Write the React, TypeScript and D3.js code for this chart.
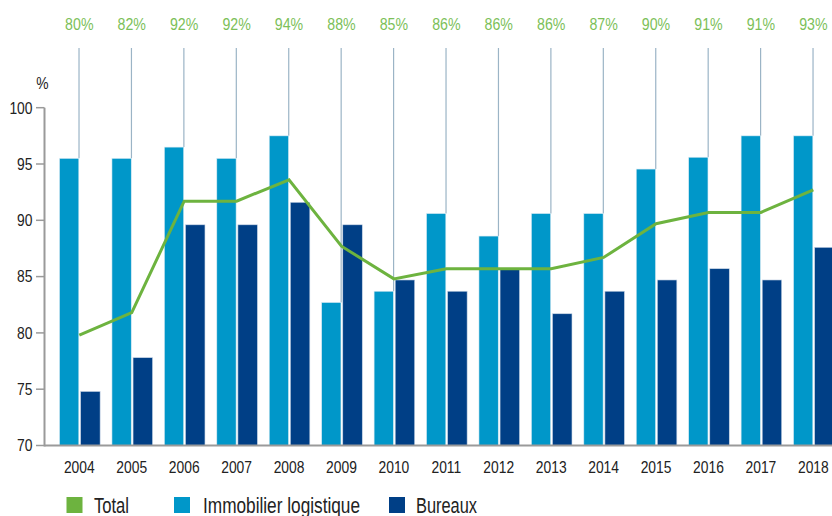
import React from "react";
import * as d3 from "d3";

const years = ["2004","2005","2006","2007","2008","2009","2010","2011","2012","2013","2014","2015","2016","2017","2018"];
const logistique = [95.5,95.5,96.5,95.5,97.5,82.7,83.7,90.6,88.6,90.6,90.6,94.55,95.6,97.5,97.5];
const bureaux = [74.8,77.8,89.6,89.6,91.6,89.6,84.7,83.7,85.65,81.7,83.7,84.7,85.7,84.7,87.6];
const total = [79.8,81.8,91.7,91.7,93.6,87.7,84.8,85.7,85.7,85.7,86.7,89.7,90.7,90.7,92.7];
const totalLabels = ["80%","82%","92%","92%","94%","88%","85%","86%","86%","86%","87%","90%","91%","91%","93%"];
const yTicks = [70,75,80,85,90,95,100];
const legendItems = ["Total", "Immobilier logistique", "Bureaux"];

const W = 832, H = 516;
const FONT = "'Liberation Sans', Arial, sans-serif";
const C_LIGHT = "#0097c9";
const C_DARK = "#003f86";
const C_GREEN = "#6db33f";
const C_GREEN_TXT = "#7cbf59";

function CText(props: { x: number; y: number; s: number; size: number; fill: string; anchor?: string; children: React.ReactNode; tl?: number }) {
  const { x, y, s, size, fill, anchor, children, tl } = props;
  return (
    <g transform={`translate(${x},${y}) scale(${s},1)`}>
      <text x={0} y={0} fontSize={size} fill={fill} textAnchor={anchor || "start"} {...(tl ? { textLength: tl / s, lengthAdjust: "spacingAndGlyphs" } : {})}>{children}</text>
    </g>
  );
}

export default function App() {
  const x = d3.scaleBand<string>().domain(years).range([53.1, 53.1 + 15 * 52.43]).padding(0);
  const y = d3.scaleLinear().domain([70, 100]).range([445.5, 107.7]);
  const cx = (yr: string) => (x(yr) as number) + x.bandwidth() / 2;
  const line = d3.line<number>().x((_, i) => cx(years[i])).y((d) => y(d));
  const legendColors = [C_GREEN, C_LIGHT, C_DARK];
  const legendSq = [66.5, 174, 389];
  const legendTx = [94, 203, 416];
  const legendW = [35, 157, 61];

  return (
    <svg width={W} height={H} style={{ position: "absolute", left: 0, top: 0, background: "#fff" }} fontFamily={FONT}>
      {years.map((yr, i) => (
        <line key={"v" + yr} x1={cx(yr) - 0.3} x2={cx(yr) - 0.3} y1={48} y2={y(logistique[i])} stroke="#9bb4c6" strokeWidth={1.2} />
      ))}
      {years.map((yr, i) => (
        <CText key={"t" + yr} x={cx(yr)} y={30} s={0.86} size={16.5} fill={C_GREEN_TXT} anchor="middle">{totalLabels[i]}</CText>
      ))}
      {years.map((yr, i) => (
        <g key={"b" + yr}>
          <rect x={cx(yr) - 19.8} width={19.3} y={y(logistique[i])} height={y(70) - y(logistique[i])} fill={C_LIGHT} stroke="#d8eaf3" strokeWidth={0.6} />
          <rect x={cx(yr) + 1.3} width={19.5} y={y(bureaux[i])} height={y(70) - y(bureaux[i])} fill={C_DARK} stroke="#c9d6e6" strokeWidth={0.6} />
        </g>
      ))}
      <path d={line(total) || ""} fill="none" stroke={C_GREEN} strokeWidth={3} strokeLinejoin="miter" />
      <line x1={44.5} x2={44.5} y1={y(100)} y2={y(70) + 1} stroke="#9a9a9a" strokeWidth={2} />
      <line x1={44.5} x2={W} y1={y(70)} y2={y(70)} stroke="#9a9a9a" strokeWidth={2} />
      {yTicks.map((t) => (
        <g key={"y" + t}>
          <line x1={36} x2={44.5} y1={y(t)} y2={y(t)} stroke="#9a9a9a" strokeWidth={1.5} />
          <CText x={32.5} y={y(t) + 5.8} s={0.84} size={16.5} fill="#222" anchor="end">{t}</CText>
        </g>
      ))}
      <CText x={42.5} y={89} s={0.84} size={16.5} fill="#222" anchor="middle">%</CText>
      {years.map((yr) => (
        <CText key={"x" + yr} x={cx(yr)} y={473} s={0.84} size={16.5} fill="#222" anchor="middle">{yr}</CText>
      ))}
      {legendItems.map((name, i) => (
        <g key={"l" + name}>
          <rect x={legendSq[i]} y={497} width={16} height={16} fill={legendColors[i]} />
          <CText x={legendTx[i]} y={513} s={0.78} size={21.5} fill="#222" tl={legendW[i]}>{name}</CText>
        </g>
      ))}
    </svg>
  );
}
